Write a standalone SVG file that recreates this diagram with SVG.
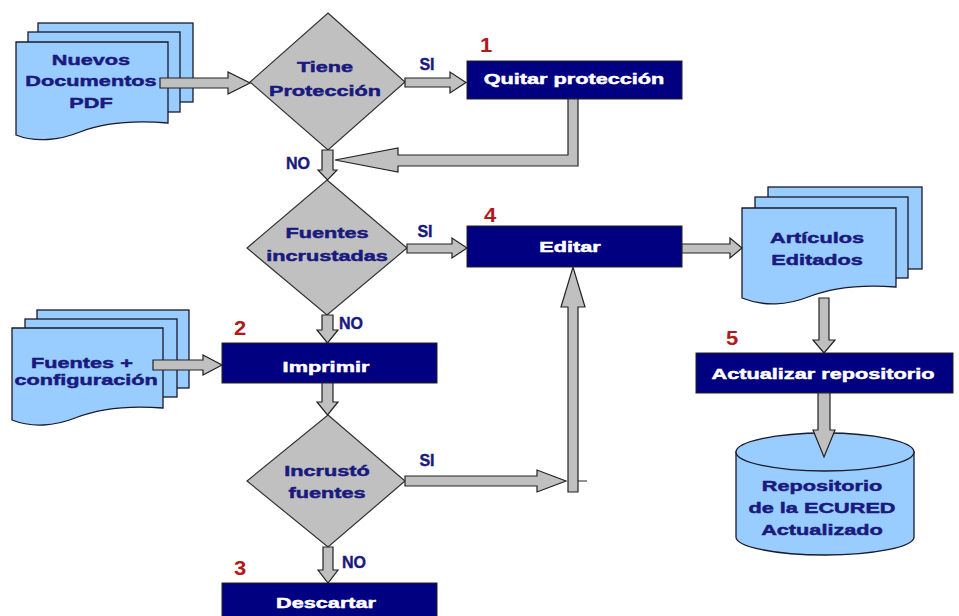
<svg xmlns="http://www.w3.org/2000/svg" width="959" height="616" viewBox="0 0 959 616">
<style>
.doc{fill:#99ccff;stroke:#1a1a2a;stroke-width:1.3}
.dia{fill:#c0c0c0;stroke:#333;stroke-width:1.2}
.box{fill:#000080;stroke:#222;stroke-width:1}
.arr{fill:#c0c0c0;stroke:#222;stroke-width:1.2;stroke-linejoin:miter}
.t{font-family:"Liberation Sans",Arial,sans-serif;font-weight:bold;font-size:15.5px;text-anchor:middle;fill:#1a1a7e;stroke:#1a1a7e;stroke-width:0.5}
.w{fill:#ffffff;stroke:#ffffff}
.lbl{font-family:"Liberation Sans",Arial,sans-serif;font-weight:bold;font-size:16px;fill:#1a1a7e;stroke:#1a1a7e;stroke-width:0.4}
.num{font-family:"Liberation Sans",Arial,sans-serif;font-weight:bold;font-size:20px;text-anchor:middle;fill:#b01a1a}
</style>
<rect width="959" height="616" fill="#ffffff"/>

<g id="doc-nuevos">
<rect class="doc" x="38" y="23" width="155" height="79"/>
<rect class="doc" x="28" y="32" width="152" height="80"/>
<path class="doc" d="M16,42 H168 V123 C130,120 100,124 80,132 C60,140 36,143 16,135 Z"/>
<text class="t" transform="translate(91,64.5) scale(1.4,1)"><tspan x="0" y="0">Nuevos</tspan><tspan x="0" y="22">Documentos</tspan><tspan x="0" y="44">PDF</tspan></text>
</g>

<g id="dec-proteccion">
<polygon class="dia" points="328,13 405,82 328,150 250,82"/>
<text class="t" transform="translate(325,72) scale(1.4,1)"><tspan x="0" y="0">Tiene</tspan><tspan x="0" y="24">Protección</tspan></text>
</g>

<g id="quitar">
<rect class="box" x="467" y="61" width="215" height="38"/>
<text class="t w" transform="translate(574,84) scale(1.4,1)">Quitar protección</text>
<text class="num" transform="translate(486,52) scale(1.1,1)">1</text>
</g>

<g id="dec-fuentes">
<polygon class="dia" points="327,180 407,248 327,315 247,248"/>
<text class="t" transform="translate(327,237.5) scale(1.4,1)"><tspan x="0" y="0">Fuentes</tspan><tspan x="0" y="24">incrustadas</tspan></text>
</g>

<g id="editar">
<rect class="box" x="467" y="226" width="215" height="41"/>
<text class="t w" transform="translate(570,252) scale(1.4,1)">Editar</text>
<text class="num" transform="translate(490,222) scale(1.1,1)">4</text>
</g>

<g id="doc-fuentes">
<rect class="doc" x="37" y="310" width="152" height="78"/>
<rect class="doc" x="25" y="319" width="152" height="78"/>
<path class="doc" d="M12,328 H163 V408 C125,405 95,410 75,418 C55,426 32,428 12,420 Z"/>
<text class="t" transform="translate(84,367.5) scale(1.4,1)"><tspan x="-1.5" y="0">Fuentes +</tspan><tspan x="1.5" y="18">configuración</tspan></text>
</g>

<g id="imprimir">
<rect class="box" x="222" y="343" width="215" height="40"/>
<text class="t w" transform="translate(326,371.5) scale(1.4,1)">Imprimir</text>
<text class="num" transform="translate(240,335) scale(1.1,1)">2</text>
</g>

<g id="dec-incrusto">
<polygon class="dia" points="328,415 405,481 328,547 247,481"/>
<text class="t" transform="translate(327,475.5) scale(1.4,1)"><tspan x="0" y="0">Incrustó</tspan><tspan x="0" y="23">fuentes</tspan></text>
</g>

<g id="descartar">
<rect class="box" x="222" y="583" width="215" height="40"/>
<text class="t w" transform="translate(326,607.5) scale(1.4,1)">Descartar</text>
<text class="num" transform="translate(240,575) scale(1.1,1)">3</text>
</g>

<g id="doc-articulos">
<rect class="doc" x="768" y="187" width="154" height="82"/>
<rect class="doc" x="755" y="197" width="153" height="81"/>
<path class="doc" d="M742,208 H896 V287 C858,284 828,289 808,297 C788,305 764,307 742,298 Z"/>
<text class="t" transform="translate(817,242.5) scale(1.4,1)"><tspan x="0" y="0">Artículos</tspan><tspan x="0" y="23">Editados</tspan></text>
</g>

<g id="actualizar">
<rect class="box" x="696" y="353" width="257" height="40"/>
<text class="t w" transform="translate(823,378.5) scale(1.4,1)">Actualizar repositorio</text>
<text class="num" transform="translate(732,345) scale(1.1,1)">5</text>
</g>

<g id="repositorio">
<path class="doc" d="M736,452 V537 A89,18 0 0 0 914,537 V452 Z"/>
<ellipse class="doc" cx="825" cy="452" rx="89" ry="19"/>
<text class="t" transform="translate(822,490.5) scale(1.4,1)"><tspan x="0" y="0">Repositorio</tspan><tspan x="0" y="23">de la ECURED</tspan><tspan x="0" y="45">Actualizado</tspan></text>
</g>

<g id="connectors">
<path class="arr" d="M160,78 H228 V72 L250,83 L228,94 V88 H160 Z"/>
<path class="arr" d="M405,78 H450 V72 L466,82.5 L450,93 V87 H405 Z"/>
<path class="arr" d="M568,99 H578 V166 H398 V172 L335,160 L398,148 V155 H568 Z"/>
<path class="arr" d="M322,150 H333 V170 H337 L327.5,180 L318,170 H322 Z"/>
<path class="arr" d="M407,244 H452 V238 L467,248 L452,258 V253 H407 Z"/>
<path class="arr" d="M322,315 H333 V330 H338 L327.5,343 L317,330 H322 Z"/>
<path class="arr" d="M153,360 H203 V355 L222,365 L203,375 V370 H153 Z"/>
<path class="arr" d="M322,383 H333 V402 H338 L327.5,415 L317,402 H322 Z"/>
<path class="arr" d="M405,476 H537 V470 L566,481 L537,492 V486 H405 Z"/>
<path class="arr" d="M568,492 V307 H561 L573,267 L585,307 H578 V492 Z"/>
<line x1="578" y1="481" x2="587" y2="481" stroke="#222" stroke-width="1"/>
<path class="arr" d="M323,547 H333 V570 H338 L328,583 L318,570 H323 Z"/>
<path class="arr" d="M682,244 H730 V238 L742,248 L730,258 V253 H682 Z"/>
<path class="arr" d="M819,298 V340 H813 L824,353 L835,340 H829 V298 Z"/>
<path class="arr" d="M818,393 V430 H813 L824,457 L835,430 H830 V393 Z"/>
<text class="lbl" x="427" y="70" text-anchor="middle">SI</text>
<text class="lbl" x="425" y="237" text-anchor="middle">SI</text>
<text class="lbl" x="427" y="466" text-anchor="middle">SI</text>
<text class="lbl" x="298" y="169" text-anchor="middle">NO</text>
<text class="lbl" x="339" y="329">NO</text>
<text class="lbl" x="342" y="568">NO</text>
</g>
</svg>
